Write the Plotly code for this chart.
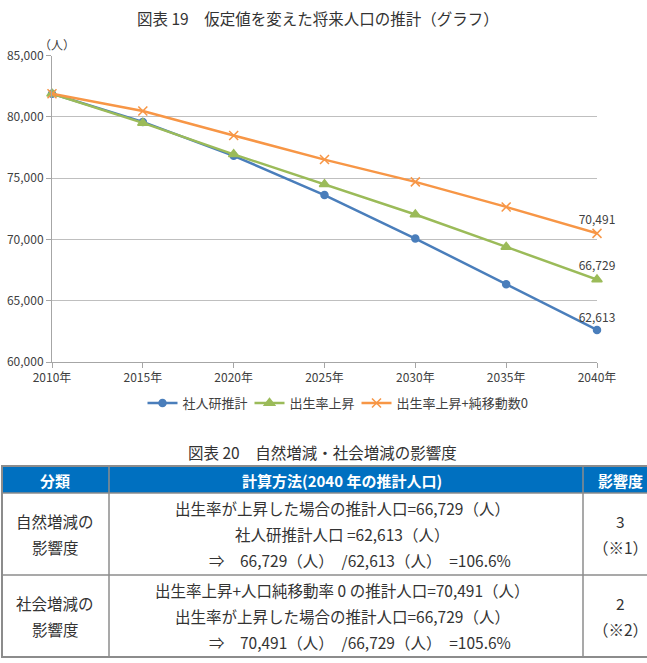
import plotly.graph_objects as go

# ---------------- data ----------------
years = [2010, 2015, 2020, 2025, 2030, 2035, 2040]
year_labels = ["2010年", "2015年", "2020年", "2025年", "2030年", "2035年", "2040年"]
ipss = [81880, 79585, 76820, 73620, 70070, 66350, 62613]
birth_up = [81880, 79500, 76940, 74500, 72030, 69390, 66729]
birth_up_mig0 = [81880, 80480, 78480, 76510, 74690, 72650, 70491]
series_names = ["社人研推計", "出生率上昇", "出生率上昇+純移動数0"]
y_ticks = [60000, 65000, 70000, 75000, 80000, 85000]

chart_title = "図表 19　仮定値を変えた将来人口の推計（グラフ）"
unit_label = "（人）"

table_title = "図表 20　自然増減・社会増減の影響度"
table_header = ["分類", "計算方法(2040 年の推計人口)", "影響度"]
table_class = [["自然増減の", "影響度"], ["社会増減の", "影響度"]]
table_method = [
    ["出生率が上昇した場合の推計人口={:,}（人）".format(birth_up[-1]),
     "社人研推計人口 ={:,}（人）".format(ipss[-1]),
     "⇒　{:,}（人）　/{:,}（人）　={:.1f}%".format(birth_up[-1], ipss[-1], birth_up[-1] / ipss[-1] * 100)],
    ["出生率上昇+人口純移動率 0 の推計人口={:,}（人）".format(birth_up_mig0[-1]),
     "出生率が上昇した場合の推計人口={:,}（人）".format(birth_up[-1]),
     "⇒　{:,}（人）　/{:,}（人）　={:.1f}%".format(birth_up_mig0[-1], birth_up[-1], birth_up_mig0[-1] / birth_up[-1] * 100)],
]
table_degree = [["3", "（※1）"], ["2", "（※2）"]]

# ---------------- figure ----------------
W, H = 647, 663
FONT = "Noto Sans CJK JP"
TXT = "#404040"


def px(x):
    return x / W


def py(y):
    return 1 - y / H


colors = ["#4A7EBB", "#9BBB59", "#F79646"]
symbols = ["circle", "triangle-up", "x-thin-open"]
sizes = [7, 9, 9]
series = [ipss, birth_up, birth_up_mig0]
legend_widths = [62, 62, None]

fig = go.Figure()
for name, vals, c, s, sz, lw in zip(series_names, series, colors, symbols, sizes, legend_widths):
    labels = [""] * (len(vals) - 1) + ["{:,}".format(vals[-1])]
    fig.add_trace(go.Scatter(
        x=years, y=vals, name=name, mode="lines+markers+text",
        text=labels, textposition="top center",
        textfont=dict(family=FONT, size=12, color=TXT),
        line=dict(color=c, width=2.5),
        marker=dict(symbol=s, size=sz, color=c, line=dict(color=c, width=1.5)),
        cliponaxis=False,
        legendwidth=lw,
    ))

annotations = [
    dict(text=chart_title, x=px(318), y=py(18), font=dict(family=FONT, size=15.5, color="#333333")),
    dict(text=unit_label, x=px(57), y=py(45), font=dict(family=FONT, size=12, color=TXT)),
    dict(text=table_title, x=px(322), y=py(452), font=dict(family=FONT, size=15.5, color="#333333")),
]

# table geometry (pixels)
col_edges = [2, 109, 583, 657]
row_edges = [466, 493, 575, 657]
col_centers = [55, 342, 620]
LINE = "#8C8C8C"
shapes = [
    dict(type="rect", x0=px(col_edges[0]), x1=px(col_edges[-1]), y0=py(row_edges[0]), y1=py(row_edges[1]),
         fillcolor="#0070C0", line=dict(width=0), layer="below"),
]
for yv in row_edges[1:-1]:
    shapes.append(dict(type="line", x0=px(col_edges[0]), x1=px(col_edges[-1]), y0=py(yv), y1=py(yv),
                       line=dict(color=LINE, width=1.5)))
for xv in col_edges[1:-1]:
    shapes.append(dict(type="line", x0=px(xv), x1=px(xv), y0=py(row_edges[0]), y1=py(row_edges[-1]),
                       line=dict(color=LINE, width=1.5)))
shapes.append(dict(type="rect", x0=px(col_edges[0]), x1=px(col_edges[-1]), y0=py(row_edges[0]), y1=py(row_edges[-1]),
                   line=dict(color=LINE, width=2)))
for s in shapes:
    s.update(xref="paper", yref="paper")

hdr_y = (row_edges[0] + row_edges[1]) / 2
for txt, cx in zip(table_header, col_centers):
    annotations.append(dict(text="<b>" + txt + "</b>", x=px(cx), y=py(hdr_y + 1),
                            font=dict(family=FONT, size=15, color="white")))

body_font = dict(family=FONT, size=15.5, color="#333333")
for r in range(2):
    mid = (row_edges[r + 1] + row_edges[r + 2]) / 2
    for i, t in enumerate(table_class[r]):
        annotations.append(dict(text=t, x=px(col_centers[0]), y=py(mid - 13 + 26 * i), font=body_font))
    for i, t in enumerate(table_degree[r]):
        annotations.append(dict(text=t, x=px(col_centers[2]), y=py(mid - 13 + 26 * i), font=body_font))
    for i, t in enumerate(table_method[r]):
        yy = py(mid - 26 + 26 * i)
        if i < 2:
            annotations.append(dict(text=t, x=px(col_centers[1]), y=yy, font=body_font))
        else:
            annotations.append(dict(text=t, x=px(207), y=yy, xanchor="left", font=body_font))

for a in annotations:
    a.update(xref="paper", yref="paper", showarrow=False)
    a.setdefault("xanchor", "center")
    a.setdefault("yanchor", "middle")

fig.update_layout(
    width=W, height=H,
    margin=dict(l=0, r=0, t=0, b=0),
    paper_bgcolor="white", plot_bgcolor="white",
    font=dict(family=FONT, color=TXT),
    xaxis=dict(domain=[px(52), px(597)], range=[2010, 2040], tickvals=years, ticktext=year_labels,
               showgrid=False, zeroline=False, showline=True, linecolor="#A6A6A6", linewidth=1,
               ticks="outside", ticklen=5, tickcolor="#A6A6A6", tickfont=dict(family=FONT, size=12, color=TXT),
               automargin=False),
    yaxis=dict(domain=[py(362), py(55.5)], range=[60000, 85000], tickvals=y_ticks, tickformat=",d",
               showgrid=True, gridcolor="#BFBFBF", gridwidth=1, zeroline=False,
               showline=True, linecolor="#A6A6A6", linewidth=1,
               ticks="outside", ticklen=5, tickcolor="#A6A6A6", tickfont=dict(family=FONT, size=12, color=TXT),
               automargin=False),
    legend=dict(orientation="h", x=px(338), xanchor="center", y=py(403), yanchor="middle",
                font=dict(family=FONT, size=13, color=TXT), entrywidthmode="pixels",
                bgcolor="rgba(0,0,0,0)"),
    annotations=annotations,
    shapes=shapes,
)

fig.write_html("out.html")
